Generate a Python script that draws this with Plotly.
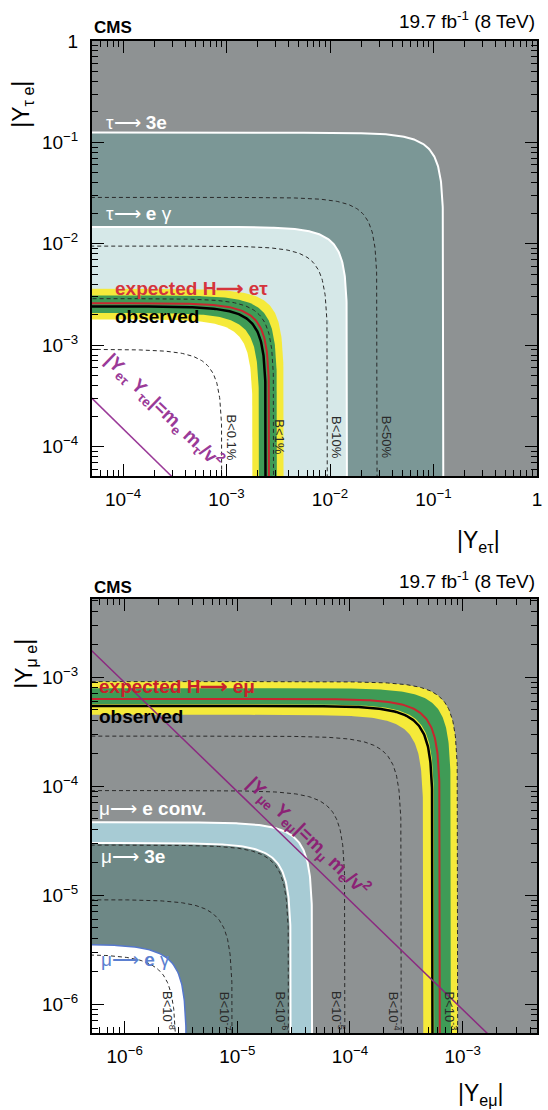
import numpy as np
import plotly.graph_objects as go

# ---------------- data ----------------
# upper panel : H -> e tau   (limits on sqrt(|Y_et|^2+|Y_te|^2))
et_observed = 2.41e-3
et_expected = 2.60e-3
et_band_1sigma = [2.08e-3, 3.10e-3]
et_band_2sigma = [1.80e-3, 3.60e-3]
et_tau_3e = 0.125
et_tau_egamma = 0.0147
et_B_labels = ["B<0.1%", "B<1%", "B<10%", "B<50%"]
et_B_radii = [9.1e-4, 2.88e-3, 9.5e-3, 2.87e-2]
et_naturalness = 1.5e-8          # m_e m_tau / v^2

# lower panel : H -> e mu
em_observed = 5.43e-4
em_expected = 6.30e-4
em_band_1sigma = [5.62e-4, 7.90e-4]
em_band_2sigma = [4.50e-4, 9.08e-4]
em_mu_e_conv = 4.65e-5
em_mu_3e = 3.0e-5
em_mu_egamma = 3.55e-6
em_B_labels = ["B<10<sup>-8</sup>", "B<10<sup>-7</sup>", "B<10<sup>-6</sup>",
               "B<10<sup>-5</sup>", "B<10<sup>-4</sup>", "B<10<sup>-3</sup>"]
em_B_radii = [2.87e-6, 9.08e-6, 2.87e-5, 9.08e-5, 2.87e-4, 9.08e-4]
em_naturalness = 8.9e-10         # m_mu m_e / v^2

top_xticks = [1e-4, 1e-3, 1e-2, 1e-1, 1]
top_xticktext = ["10<sup>−4</sup>", "10<sup>−3</sup>", "10<sup>−2</sup>", "10<sup>−1</sup>", "1"]
top_yticks = [1e-4, 1e-3, 1e-2, 1e-1, 1]
top_yticktext = top_xticktext
bot_ticks = [1e-6, 1e-5, 1e-4, 1e-3]
bot_ticktext = ["10<sup>−6</sup>", "10<sup>−5</sup>", "10<sup>−4</sup>", "10<sup>−3</sup>"]

# ---------------- styles ----------------
GRAY = "#8e9293"
TEAL_T = "#7b9796"
LIGHT_T = "#d6e8e8"
TEAL_B = "#6e8886"
LBLUE = "#a7cbd4"
YELLOW = "#f5ea3a"
GREEN = "#3f9b56"
RED = "#c8262f"
FONT = "Liberation Sans"
ARROW = "⟶"

W, H = 548, 1110
ML, MR, MT, MB = 92, 6, 41, 77
TOP_X = [-4.3, 0.0005]
TOP_Y = [-4.29, 0.0005]
BOT_X = [-6.29, -2.34]
BOT_Y = [-6.266, -2.284]

# quarter-circle shape in the (|Y1|,|Y2|) plane (constant branching ratio)
s = np.linspace(-4.5, 4.5, 501)
theta = np.arctan(10.0 ** s)


def arc(r):
    return r * np.cos(theta), r * np.sin(theta)


def disc(r):
    x, y = arc(r)
    c = r * 1e-6
    return np.r_[x, c, x[0]], np.r_[y, c, y[0]]


fig = go.Figure()


def add_disc(r, color, xa, ya):
    x, y = disc(r)
    fig.add_trace(go.Scatter(x=x, y=y, mode="lines", fill="toself", fillcolor=color,
                             line=dict(width=0, color=color), hoverinfo="skip",
                             showlegend=False, xaxis=xa, yaxis=ya))


def add_arc(r, color, width, xa, ya, dash="solid"):
    x, y = arc(r)
    fig.add_trace(go.Scatter(x=x, y=y, mode="lines", line=dict(color=color, width=width, dash=dash),
                             hoverinfo="skip", showlegend=False, xaxis=xa, yaxis=ya))


# ---- upper panel ----
add_disc(et_tau_3e, TEAL_T, "x", "y")
add_disc(et_tau_egamma, LIGHT_T, "x", "y")
add_disc(et_band_2sigma[1], YELLOW, "x", "y")
add_disc(et_band_1sigma[1], GREEN, "x", "y")
add_disc(et_band_1sigma[0], YELLOW, "x", "y")
add_disc(et_band_2sigma[0], "white", "x", "y")
add_arc(et_tau_3e, "white", 2, "x", "y")
add_arc(et_tau_egamma, "white", 2, "x", "y")
for r in et_B_radii:
    add_arc(r, "#2a2a2a", 1, "x", "y", dash="4px,3px")
add_arc(et_expected, RED, 2, "x", "y")
add_arc(et_observed, "black", 2.5, "x", "y")
px = np.array([1e-7, 10.0])
fig.add_trace(go.Scatter(x=px, y=et_naturalness / px, mode="lines",
                         line=dict(color="#9a3a98", width=1.5), hoverinfo="skip",
                         showlegend=False, xaxis="x", yaxis="y"))

# ---- lower panel ----
add_disc(em_band_2sigma[1], YELLOW, "x2", "y2")
add_disc(em_band_1sigma[1], GREEN, "x2", "y2")
add_disc(em_band_1sigma[0], YELLOW, "x2", "y2")
add_disc(em_band_2sigma[0], GRAY, "x2", "y2")
add_disc(em_mu_e_conv, LBLUE, "x2", "y2")
add_disc(em_mu_3e, TEAL_B, "x2", "y2")
add_disc(em_mu_egamma, "white", "x2", "y2")
add_arc(em_mu_e_conv, "white", 2, "x2", "y2")
add_arc(em_mu_3e, "white", 2, "x2", "y2")
add_arc(em_mu_egamma, "#5577cc", 1.5, "x2", "y2")
for r in em_B_radii:
    add_arc(r, "#2a2a2a", 1, "x2", "y2", dash="4px,3px")
add_arc(em_expected, RED, 2, "x2", "y2")
add_arc(em_observed, "black", 2.5, "x2", "y2")
px2 = np.array([1e-9, 1.0])
fig.add_trace(go.Scatter(x=px2, y=em_naturalness / px2, mode="lines",
                         line=dict(color="#8b2a80", width=1.5), hoverinfo="skip",
                         showlegend=False, xaxis="x2", yaxis="y2"))


# ---------------- axes ----------------
def minor_vals(lo, hi):
    out = []
    for k in range(int(np.floor(lo)) - 1, int(np.ceil(hi)) + 1):
        for d in range(2, 10):
            v = d * 10.0 ** k
            if lo <= np.log10(v) <= hi:
                out.append(v)
    return out


def axis(rng, tv, tt, domain, anchor, standoff):
    return dict(type="log", range=rng, domain=domain, anchor=anchor,
                tickmode="array", tickvals=tv, ticktext=tt,
                ticks="inside", ticklen=12, tickwidth=1, tickcolor="black",
                minor=dict(tickmode="array", tickvals=minor_vals(*rng), ticks="inside",
                           ticklen=6, tickwidth=1, tickcolor="black", showgrid=False),
                showline=True, linewidth=2, linecolor="black", mirror="allticks",
                showgrid=False, zeroline=False,
                tickfont=dict(family=FONT, size=19, color="black"),
                ticklabelstandoff=standoff)


top_dom = [(H - 476 - MB) / (H - MT - MB), 1.0]
bot_dom = [0.0, (H - 599 - MB) / (H - MT - MB)]

fig.update_layout(
    width=W, height=H,
    margin=dict(l=ML, r=MR, t=MT, b=MB),
    paper_bgcolor="white", plot_bgcolor=GRAY,
    showlegend=False,
    xaxis=axis(TOP_X, top_xticks, top_xticktext, [0, 1], "y", 5),
    yaxis=axis(TOP_Y, top_yticks, top_yticktext, top_dom, "x", 8),
    xaxis2=axis(BOT_X, bot_ticks, bot_ticktext, [0, 1], "y2", 5),
    yaxis2=axis(BOT_Y, bot_ticks, bot_ticktext, bot_dom, "x2", 8),
)
fig.add_shape(type="rect", xref="paper", yref="paper", x0=0, x1=1, y0=bot_dom[0], y1=bot_dom[1],
              fillcolor=GRAY, line_width=0, layer="below")


# ---------------- text ----------------
def P(xpx, ypx):
    return (xpx - ML) / (W - ML - MR), (H - MB - ypx) / (H - MT - MB)


def tx(xpx):
    return TOP_X[0] + (xpx - ML) / 450 * (TOP_X[1] - TOP_X[0])


def ty(ypx):
    return TOP_Y[1] - (ypx - 41) / 435 * (TOP_Y[1] - TOP_Y[0])


def bx(xpx):
    return BOT_X[0] + (xpx - ML) / 450 * (BOT_X[1] - BOT_X[0])


def by(ypx):
    return BOT_Y[1] - (ypx - 599) / 434 * (BOT_Y[1] - BOT_Y[0])


ann = []


def paper_text(text, xpx, ypx, size, xanchor="center", angle=0, color="black"):
    x, y = P(xpx, ypx)
    ann.append(dict(text=text, x=x, y=y, xref="paper", yref="paper", showarrow=False,
                    xanchor=xanchor, yanchor="middle", textangle=angle,
                    font=dict(family=FONT, size=size, color=color)))


def data_text(text, x, y, xa, ya, size, color, xanchor="left", angle=0):
    ann.append(dict(text=text, x=x, y=y, xref=xa, yref=ya, showarrow=False,
                    xanchor=xanchor, yanchor="middle", textangle=angle,
                    font=dict(family=FONT, size=size, color=color)))


for yc in (28, 587):
    paper_text("<b>CMS</b>", 92, yc, 17, xanchor="left")
for yc in (20, 580):
    paper_text("19.7 fb<sup>-1</sup> (8 TeV)", 542, yc, 19, xanchor="right")

paper_text("|Y<sub>τ e</sub>|", 22, 104, 23, angle=-90)
paper_text("|Y<sub>μ e</sub>|", 24, 664, 23, angle=-90)
paper_text("|Y<sub>eτ</sub>|", 483, 541, 23)
paper_text("|Y<sub>eμ</sub>|", 485, 1094, 23)

# upper panel labels
data_text(f"τ{ARROW} <b>3e</b>", tx(104), ty(122), "x", "y", 19, "white")
data_text(f"τ{ARROW} <b>e</b> γ", tx(104), ty(213), "x", "y", 19, "white")
data_text(f"<b>expected H{ARROW} eτ</b>", tx(113), ty(288), "x", "y", 19, "#d5343c")
data_text("<b>observed</b>", tx(113), ty(316), "x", "y", 19, "black")
data_text("<b>|Y<sub>eτ</sub> Y<sub>τe</sub>|=m<sub>e</sub> m<sub>τ</sub>/v<sup>2</sup></b>",
          tx(165), ty(410), "x", "y", 19, "#9a3a98", xanchor="center", angle=44)
for lab, r, off in zip(et_B_labels, et_B_radii, [0.09, 0.055, 0.09, 0.095]):
    data_text(lab, np.log10(r) + off, ty(437), "x", "y", 13, "#2a2a2a", xanchor="center", angle=90)

# lower panel labels
data_text(f"<b>expected H{ARROW} eμ</b>", bx(97), by(686), "x2", "y2", 19, "#c8202c")
data_text("<b>observed</b>", bx(97), by(716), "x2", "y2", 19, "black")
data_text(f"μ{ARROW} <b>e conv.</b>", bx(97), by(808), "x2", "y2", 19, "white")
data_text(f"μ{ARROW} <b>3e</b>", bx(99), by(856), "x2", "y2", 19, "white")
data_text(f"μ{ARROW} <b>e</b> γ", bx(99), by(959), "x2", "y2", 19, "#5b7fd0")
data_text("<b>|Y<sub>μe</sub> Y<sub>eμ</sub>|=m<sub>μ</sub> m<sub>e</sub>/v<sup>2</sup></b>",
          bx(311), by(836), "x2", "y2", 19, "#8b2275", xanchor="center", angle=44)
for lab, r in zip(em_B_labels, em_B_radii):
    data_text(lab, np.log10(r) - 0.065, by(1011), "x2", "y2", 13, "#2a2a2a", xanchor="center", angle=90)

fig.update_layout(annotations=ann)
fig.write_html("out.html", config={"displayModeBar": False},
               post_script="document.body.style.margin='0';document.body.style.overflow='hidden';")
